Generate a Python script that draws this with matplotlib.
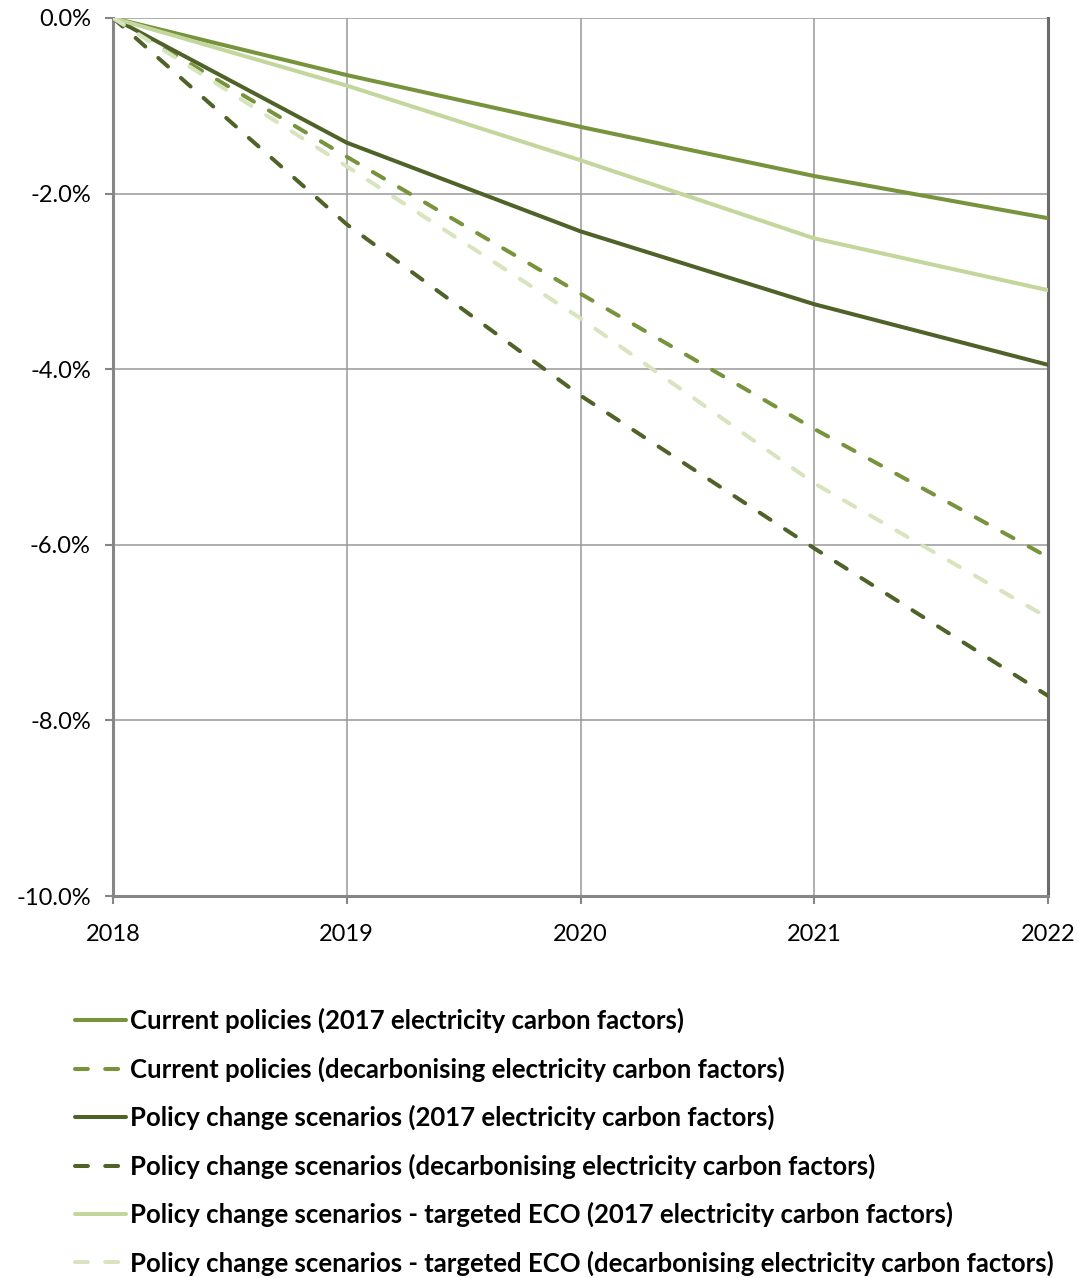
import matplotlib.pyplot as plt
from matplotlib.ticker import PercentFormatter

years = [2018, 2019, 2020, 2021, 2022]

# change in emissions relative to 2018, in %
current_2017 = [0.0, -0.65, -1.24, -1.80, -2.28]
current_decarb = [0.0, -1.58, -3.14, -4.68, -6.14]
policy_2017 = [0.0, -1.42, -2.43, -3.26, -3.95]
policy_decarb = [0.0, -2.35, -4.30, -6.04, -7.72]
eco_2017 = [0.0, -0.77, -1.62, -2.51, -3.10]
eco_decarb = [0.0, -1.69, -3.42, -5.30, -6.83]

labels = [
    "Current policies (2017 electricity carbon factors)",
    "Current policies (decarbonising electricity carbon factors)",
    "Policy change scenarios (2017 electricity carbon factors)",
    "Policy change scenarios (decarbonising electricity carbon factors)",
    "Policy change scenarios - targeted ECO (2017 electricity carbon factors)",
    "Policy change scenarios - targeted ECO (decarbonising electricity carbon factors)",
]

mid = "#77933C"
dark = "#4F6228"
light = "#C3D69B"
lightest = "#D7E4BD"

plt.rcParams['font.family'] = ['Lato', 'DejaVu Sans']
plt.rcParams['axes.unicode_minus'] = False

fig = plt.figure(figsize=(10.83, 12.78), dpi=100)
ax = fig.add_axes([113 / 1083, 1 - 896 / 1278, 935 / 1083, 878 / 1278])

lw = 2.9
dash = (3.2, 4.3)
series = [
    (current_2017, mid, None),
    (current_decarb, mid, dash),
    (policy_2017, dark, None),
    (policy_decarb, dark, dash),
    (eco_2017, light, None),
    (eco_decarb, lightest, dash),
]
for (vals, col, ds), lab in zip(series, labels):
    if ds is None:
        ax.plot(years, vals, color=col, lw=lw, label=lab, solid_capstyle='round', zorder=3)
    else:
        ax.plot(years, vals, color=col, lw=lw, label=lab, dashes=ds,
                dash_capstyle='round', zorder=3)

ax.set_xlim(2018, 2022)
ax.set_ylim(-10, 0)
ax.set_xticks(years)
ax.set_yticks([0, -2, -4, -6, -8, -10])
ax.yaxis.set_major_formatter(PercentFormatter(decimals=1))
ax.grid(True, color="#999999", lw=1.1, zorder=0)

for s in ["left", "bottom"]:
    ax.spines[s].set_color("#868686")
    ax.spines[s].set_linewidth(2.2)
ax.spines["right"].set_color("#6a6a6a")
ax.spines["right"].set_linewidth(2.2)
ax.spines["top"].set_visible(False)

ax.tick_params(axis="both", labelsize=17, length=6, width=1.5, color="#868686")
ax.tick_params(axis="y", pad=10)
ax.tick_params(axis="x", pad=14)

leg = fig.legend(loc="upper left", bbox_to_anchor=(75 / 1083, 1 - 1008 / 1278),
                 frameon=False, prop={"size": 18.5, "weight": "bold"},
                 handlelength=2.0, handletextpad=0.15, labelspacing=0.9,
                 borderaxespad=0, borderpad=0)

fig.savefig("out.png", dpi=100)
